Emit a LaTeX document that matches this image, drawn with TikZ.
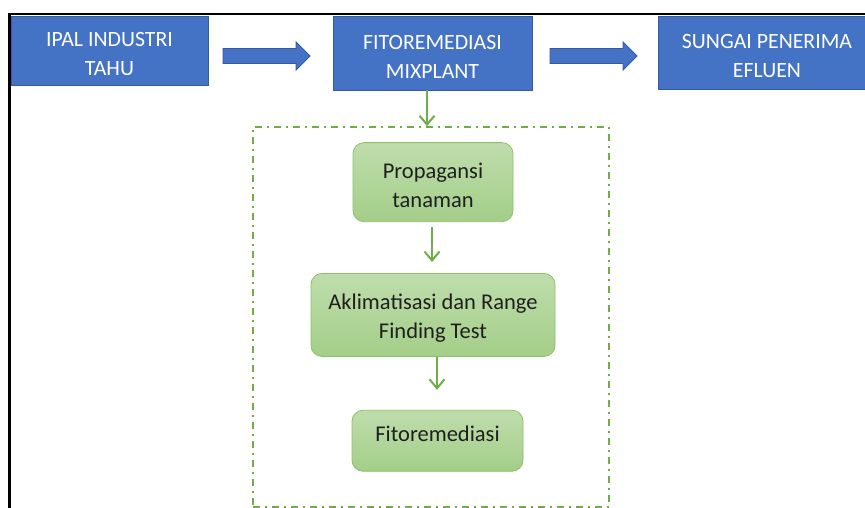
\documentclass[tikz,border=0pt]{standalone}
\usepackage{fontspec}
\setmainfont{Carlito}
\usetikzlibrary{positioning}
\usetikzlibrary{arrows.meta}
\definecolor{boxblue}{HTML}{4472C4}
\definecolor{edgeblue}{HTML}{35599E}
\definecolor{leafgreen}{HTML}{70AD47}
\definecolor{palegreen}{HTML}{BFDDAC}
\definecolor{midgreen}{HTML}{A3CE88}
\definecolor{stageedge}{HTML}{8CC16A}
\newcommand{\lift}[1]{\rule{0pt}{#1}}
\newcommand{\drop}[1]{\rule[-#1]{0pt}{#1}}
\tikzset{
    process/.style={
        draw=edgeblue,
        line width=0.8pt,
        fill=boxblue,
        text=white,
        font=\fontsize{21.8}{29}\selectfont,
        align=center,
        inner sep=0pt
    },
    stage/.style={
        draw=stageedge,
        line width=0.8pt,
        rounded corners=11pt,
        top color=palegreen,
        bottom color=midgreen,
        text=black!88,
        font=\fontsize{22.5}{29}\selectfont,
        align=center,
        inner sep=0pt
    },
    flow/.style={
        leafgreen,
        line width=2pt,
        -{Straight Barb[length=9pt,width=15pt]}
    },
    blockarrow/.style={draw=edgeblue, fill=boxblue, line width=0.8pt},
}
\begin{document}
\begin{tikzpicture}[x=1pt, y=-1pt]
        \useasboundingbox (0,0) rectangle (865,508);

        % frame
        \draw[line width=2.5pt] (8,14) -- (867,14);
        \draw[line width=2.5pt] (9.5,14) -- (9.5,510);

        % main line
        \node[process, minimum width=197pt, minimum height=69pt] (ipal) at (109.5,50.5) {\lift{22pt}IPAL INDUSTRI\\TAHU};
        \node[process, minimum width=199pt, minimum height=74pt] (mix) at (432.5,53) {\lift{22pt}FITOREMEDIASI\\MIXPLANT};
        \node[process, minimum width=218pt, minimum height=73pt] (sungai) at (767,52.5) {\lift{22pt}SUNGAI PENERIMA\\EFLUEN};

        \foreach \x in {223,550}
            \draw[blockarrow] (\x,48.5) -- ++(73,0) -- ++(0,-6.5) -- ++(14,14) -- ++(-14,14) -- ++(0,-6.5) -- ++(-73,0) -- cycle;

        % stages of the phytoremediation
        \node[draw=leafgreen, line width=1.5pt, dash pattern=on 7pt off 5pt on 2pt off 5pt,
              minimum width=356pt, minimum height=380pt, inner sep=0pt] (stagebox) at (431,317) {};

        \node[stage, minimum width=160pt, minimum height=79pt, below=16pt of stagebox.north, xshift=2pt] (prop) {\lift{22pt}Propagansi\\tanaman};
        \node[stage, minimum width=244pt, minimum height=83pt, below=51pt of prop] (aklim) {\lift{21pt}Aklimatisasi dan Range\\Finding Test};
        \node[stage, minimum width=171pt, minimum height=61pt, below=53pt of aklim, xshift=4.5pt] (fito) {Fitoremediasi\drop{15pt}};

        \draw[flow] ([xshift=-5.5pt]mix.south) -- ([xshift=-5.5pt]mix.south |- stagebox.north);
        \draw[flow, shorten <=5pt, shorten >=11pt] ([xshift=-1pt]prop.south) -- ([xshift=-1pt]prop.south |- aklim.north);
        \draw[flow, shorten >=20pt] ([xshift=4pt]aklim.south) -- ([xshift=4pt]aklim.south |- fito.north);
\end{tikzpicture}
\end{document}
